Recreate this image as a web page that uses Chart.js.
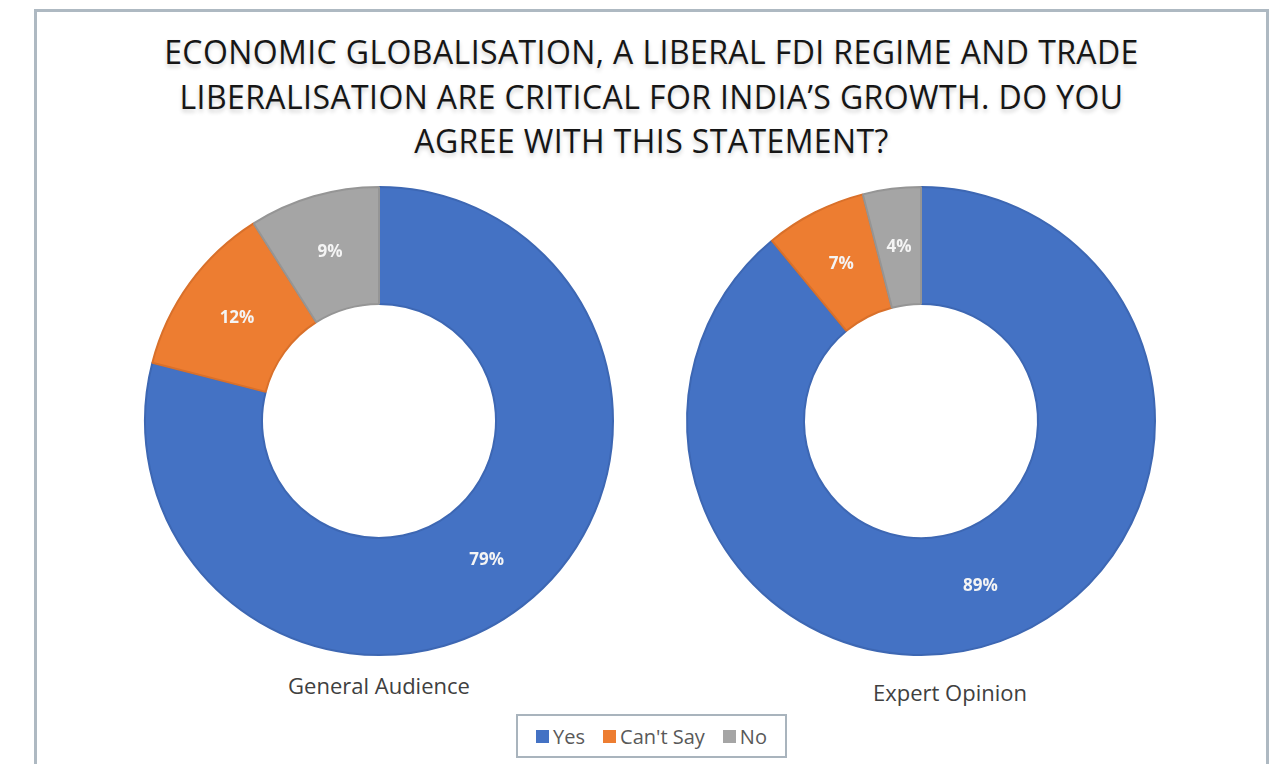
<!DOCTYPE html>
<html>
<head>
<meta charset="utf-8">
<script src="https://cdn.jsdelivr.net/npm/chart.js@4.4.1/dist/chart.umd.min.js"></script>
<style>
    body {
        margin: 0;
        width: 1280px;
        height: 764px;
        overflow: hidden;
        background: #ffffff;
        font-family: "Open Sans", "Noto Sans", sans-serif;
        position: relative;
    }
    .frame {
        position: absolute;
        left: 34px;
        top: 9px;
        width: 1229px;
        height: 800px;
        border: 3px solid #aeb9c2;
    }
    .title-line {
        position: absolute;
        left: 35px;
        width: 1233px;
        text-align: center;
        font-size: 32px;
        line-height: 32px;
        letter-spacing: 0.4px;
        color: #161616;
        text-shadow: 0 3px 4px rgba(0, 0, 0, 0.18);
        white-space: nowrap;
    }
    .chart-box {
        position: absolute;
        width: 480px;
        height: 480px;
    }
    .pie-label {
        position: absolute;
        width: 300px;
        text-align: center;
        font-size: 22px;
        line-height: 26px;
        color: #404040;
    }
    .legend {
        position: absolute;
        left: 516px;
        top: 714px;
        width: 267px;
        height: 40px;
        border: 2px solid #a9b4bd;
        display: flex;
        align-items: center;
        justify-content: center;
        gap: 18px;
        font-size: 20px;
        color: #595959;
    }
    .legend-item {
        display: flex;
        align-items: center;
        gap: 4px;
    }
    .legend-swatch {
        width: 13px;
        height: 13px;
    }
</style>
</head>
<body>
<div class="frame"></div>
<div class="title-line" style="top: 36px;">ECONOMIC GLOBALISATION, A LIBERAL FDI REGIME AND TRADE</div>
<div class="title-line" style="top: 81px;">LIBERALISATION ARE CRITICAL FOR INDIA’S GROWTH. DO YOU</div>
<div class="title-line" style="top: 125px;">AGREE WITH THIS STATEMENT?</div>

<div class="chart-box" style="left: 139px; top: 181px;"><canvas id="generalChart" width="480" height="480"></canvas></div>
<div class="chart-box" style="left: 681px; top: 181px;"><canvas id="expertChart" width="480" height="480"></canvas></div>

<div class="pie-label" style="left: 229px; top: 672px;">General Audience</div>
<div class="pie-label" style="left: 800px; top: 679px;">Expert Opinion</div>

<div class="legend" id="legend"></div>

<script>
const responses = ['Yes', "Can't Say", 'No'];
const generalAudience = [79, 12, 9];
const expertOpinion = [89, 7, 4];

const fillColors = ['#4472c4', '#ed7d31', '#a5a5a5'];
const edgeColors = ['#3d67b3', '#d9702a', '#959595'];

// writes the percentage in the middle of each ring segment
const sliceLabels = {
    id: 'sliceLabels',
    afterDatasetsDraw(chart) {
        const ctx = chart.ctx;
        const meta = chart.getDatasetMeta(0);
        const values = chart.data.datasets[0].data;
        ctx.save();
        ctx.font = 'bold 17px "Open Sans"';
        ctx.fillStyle = '#f4f4f4';
        ctx.textAlign = 'center';
        ctx.textBaseline = 'middle';
        meta.data.forEach((arc, i) => {
            const pos = arc.tooltipPosition();
            ctx.fillText(values[i] + '%', pos.x, pos.y);
        });
        ctx.restore();
    }
};

function createDonut(canvasId, values) {
    const ctx = document.getElementById(canvasId).getContext('2d');
    new Chart(ctx, {
        type: 'doughnut',
        data: {
            labels: responses,
            datasets: [
                {
                    data: values,
                    backgroundColor: fillColors,
                    borderColor: edgeColors,
                    borderWidth: 2
                }
            ]
        },
        options: {
            responsive: false,
            animation: false,
            radius: 234,
            cutout: '50%',
            layout: { padding: 0 },
            plugins: {
                legend: { display: false },
                tooltip: { enabled: false }
            }
        },
        plugins: [sliceLabels]
    });
}

function buildLegend() {
    const box = document.getElementById('legend');
    responses.forEach((name, i) => {
        const item = document.createElement('div');
        item.className = 'legend-item';
        const swatch = document.createElement('span');
        swatch.className = 'legend-swatch';
        swatch.style.background = fillColors[i];
        const text = document.createElement('span');
        text.textContent = name;
        item.appendChild(swatch);
        item.appendChild(text);
        box.appendChild(item);
    });
}

buildLegend();
createDonut('generalChart', generalAudience);
createDonut('expertChart', expertOpinion);
</script>
</body>
</html>
